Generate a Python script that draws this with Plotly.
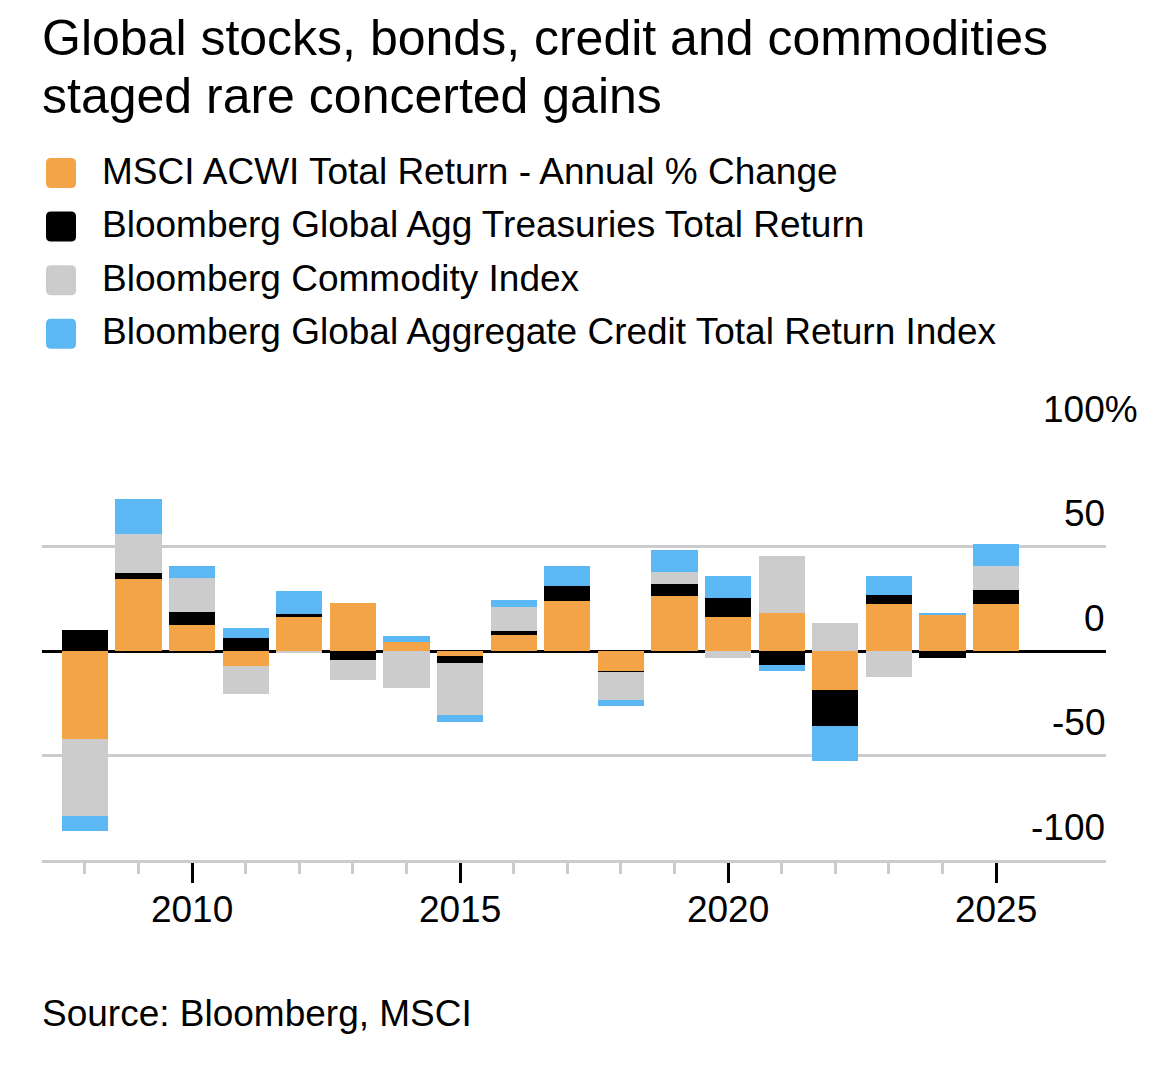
import plotly.graph_objects as go

# data (annual % change)
years = list(range(2008, 2026))
msci_acwi = [-42.1, 34.4, 12.6, -7.2, 16.1, 22.8, 4.2, -2.5, 7.8, 23.9,
             -9.7, 26.5, 16.1, 18.2, -18.5, 22.3, 17.7, 22.5]
agg_treasuries = [10.2, 2.7, 5.9, 6.2, 1.7, -4.2, 0.0, -3.2, 1.6, 7.3,
                  -0.5, 5.6, 9.4, -6.7, -17.4, 4.3, -3.3, 6.7]
commodity = [-37.0, 18.8, 16.6, -13.5, -1.0, -9.9, -17.9, -24.7, 11.5, 0.0,
             -13.3, 5.6, -3.3, 27.3, 13.5, -12.4, 0.0, 11.3]
agg_credit = [-6.9, 16.7, 5.6, 4.6, 10.8, 0.0, 2.9, -3.5, 3.6, 9.6,
              -2.9, 10.7, 10.2, -3.0, -16.9, 9.1, 0.6, 10.5]

series_names = [
    "MSCI ACWI Total Return - Annual % Change",
    "Bloomberg Global Agg Treasuries Total Return",
    "Bloomberg Commodity Index",
    "Bloomberg Global Aggregate Credit Total Return Index",
]
series_values = [msci_acwi, agg_treasuries, commodity, agg_credit]
series_colors = ["#F2A446", "#000000", "#CCCCCC", "#5BB8F5"]

y_ticks = [100, 50, 0, -50, -100]
y_labels = ["100%", "50", "0", "-50", "-100"]
x_major = [2010, 2015, 2020, 2025]
x_minor = [y for y in years if y not in x_major]

FONT = "Liberation Sans"
OFF = 8  # page body margin
W, H = 1162, 1061
L, R, T, B = 42 - OFF, 1106 - OFF, 442 - OFF, 860 - OFF  # plot area in figure pixels


def px(x):
    # page x -> paper
    return (x - OFF - L) / (R - L)


def py(y):
    # page y -> paper
    return (B - (y - OFF)) / (B - T)


fig = go.Figure()
for name, vals, col in zip(series_names, series_values, series_colors):
    fig.add_trace(go.Bar(x=years, y=vals, name=name, marker_color=col,
                         marker_line_width=0, width=0.86, showlegend=False))

annotations = []
shapes = []

# title
for txt, yc in [("Global stocks, bonds, credit and commodities", 38),
                 ("staged rare concerted gains", 96)]:
    annotations.append(dict(text=txt, x=px(40), y=py(yc), xref="paper", yref="paper",
                            xanchor="left", yanchor="middle", showarrow=False,
                            font=dict(family=FONT, size=50, color="#000")))

# hand-drawn legend with rounded squares
sq = ("M -10,-15 L 10,-15 Q 15,-15 15,-10 L 15,10 Q 15,15 10,15 L -10,15 "
      "Q -15,15 -15,10 L -15,-10 Q -15,-15 -10,-15 Z")
for i, (name, col) in enumerate(zip(series_names, series_colors)):
    yc = 172 + i * 53.6
    shapes.append(dict(type="path", path=sq, xref="paper", yref="paper",
                       xsizemode="pixel", ysizemode="pixel",
                       xanchor=px(61), yanchor=py(yc + 1),
                       fillcolor=col, line=dict(width=0)))
    annotations.append(dict(text=name, x=px(100), y=py(yc - 1), xref="paper", yref="paper",
                            xanchor="left", yanchor="middle", showarrow=False,
                            font=dict(family=FONT, size=37, color="#000")))

# y tick labels above the gridlines, "%" hanging past the axis end
for v, lab in zip(y_ticks, y_labels):
    shift = 33 if lab.endswith("%") else 0
    annotations.append(dict(text=lab, x=1, y=v, xref="paper", yref="y",
                            xanchor="right", yanchor="middle", yshift=33, xshift=shift,
                            borderpad=0, showarrow=False,
                            font=dict(family=FONT, size=37, color="#000")))

# source
annotations.append(dict(text="Source: Bloomberg, MSCI", x=px(40), y=py(1013),
                        xref="paper", yref="paper", xanchor="left", yanchor="middle",
                        showarrow=False, font=dict(family=FONT, size=37, color="#000")))

fig.update_layout(
    width=W, height=H,
    margin=dict(l=L, r=W - R, t=T, b=H - B),
    barmode="relative", bargap=0,
    plot_bgcolor="white", paper_bgcolor="white",
    font=dict(family=FONT, size=37, color="#000"),
    annotations=annotations, shapes=shapes,
    xaxis=dict(range=[2007.2, 2027.05], tickmode="array", tickvals=x_major,
               ticks="outside", ticklen=20, tickwidth=3, tickcolor="#000",
               ticklabelstandoff=-5,
               showgrid=False, showline=True, linecolor="#CCCCCC", linewidth=3,
               zeroline=False, tickfont=dict(size=37),
               minor=dict(tickmode="array", tickvals=x_minor, ticks="outside",
                          ticklen=11, tickwidth=3, tickcolor="#CCCCCC", showgrid=False)),
    yaxis=dict(range=[-100, 100], tickvals=y_ticks, showticklabels=False,
               showgrid=True, gridcolor="#CCCCCC", gridwidth=3,
               zeroline=True, zerolinecolor="#000", zerolinewidth=2.5),
)

fig.write_html("out.html")
